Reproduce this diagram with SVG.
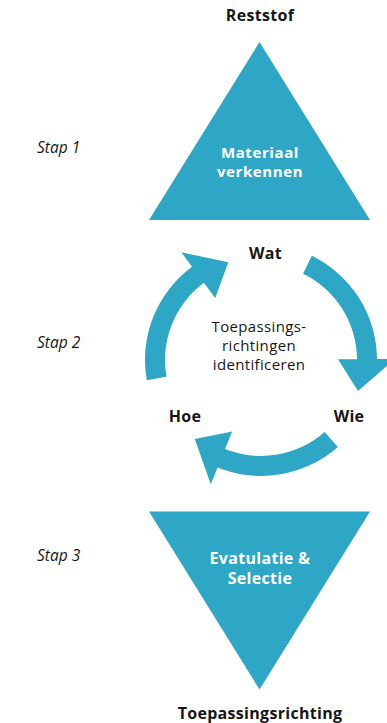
<svg xmlns="http://www.w3.org/2000/svg" width="387" height="723" viewBox="0 0 387 723">
  <style>
    .shape { fill: #2ea6c6; }
    .label { font-family: "Open Sans", "Liberation Sans", sans-serif; font-weight: bold; font-size: 16px; fill: #161616; text-anchor: middle; letter-spacing: 0.3px; }
    .inner { font-family: "Open Sans", "Liberation Sans", sans-serif; font-weight: bold; font-size: 16px; fill: #ffffff; text-anchor: middle; letter-spacing: 0.3px; }
    .inner-sm { font-size: 15px; letter-spacing: 0.6px; }
    .center { font-family: "Open Sans", "Liberation Sans", sans-serif; font-size: 15px; fill: #161616; text-anchor: middle; letter-spacing: 0.35px; }
    .step { font-family: "Open Sans", "Liberation Sans", sans-serif; font-style: italic; font-size: 15.5px; fill: #161616; }
  </style>
  <rect width="387" height="723" fill="#ffffff"/>

  <!-- step labels -->
  <text class="step" x="37" y="153">Stap 1</text>
  <text class="step" x="37" y="348">Stap 2</text>
  <text class="step" x="37" y="561">Stap 3</text>

  <!-- stage 1: material exploration -->
  <g id="reststof">
    <text class="label" x="260" y="21">Reststof</text>
  </g>
  <g id="materiaal-verkennen">
    <polygon class="shape" points="259.5,42 149,220 370,220"/>
    <text class="inner inner-sm" x="260" y="157.5">Materiaal</text>
    <text class="inner inner-sm" x="260" y="176.5">verkennen</text>
  </g>

  <!-- stage 2: cycle of questions -->
  <g id="connectors">
    <!-- Hoe to Wat -->
    <path class="shape" d="M146.76,380.14 A116,116 0 0 1 192,266.75 L181.29,252.28 L228.32,262.32 L215.2,298.1 L203.9,282.83 A96,96 0 0 0 166.46,376.67 Z"/>
    <!-- Wat to Wie -->
    <path class="shape" d="M311.85,255.74 A116,116 0 0 1 377,358.99 L395,358.83 L358,390.97 L338,359.33 L357,359.16 A96,96 0 0 0 303.08,273.72 Z"/>
    <!-- Wie to Hoe -->
    <path class="shape" d="M337.86,446.88 A116,116 0 0 1 217.55,467.55 L210.8,484.24 L194.79,438.9 L232.16,431.39 L225.04,449.01 A96,96 0 0 0 324.61,431.9 Z"/>
  </g>
  <g id="wat">
    <text class="label" x="265.5" y="258.5">Wat</text>
  </g>
  <g id="wie">
    <text class="label" x="349" y="422">Wie</text>
  </g>
  <g id="hoe">
    <text class="label" x="185" y="422">Hoe</text>
  </g>
  <g id="toepassingsrichtingen-identificeren">
    <text class="center" x="259" y="331.5">Toepassings-</text>
    <text class="center" x="259" y="350.5">richtingen</text>
    <text class="center" x="259" y="369.5">identificeren</text>
  </g>

  <!-- stage 3: evaluation and selection -->
  <g id="evaluatie-selectie">
    <polygon class="shape" points="149,511.5 370,511.5 259.5,689.5"/>
    <text class="inner" x="260" y="563.5">Evatulatie &amp;</text>
    <text class="inner" x="260" y="583.5">Selectie</text>
  </g>
  <g id="toepassingsrichting">
    <text class="label" x="260" y="718.5">Toepassingsrichting</text>
  </g>
</svg>
